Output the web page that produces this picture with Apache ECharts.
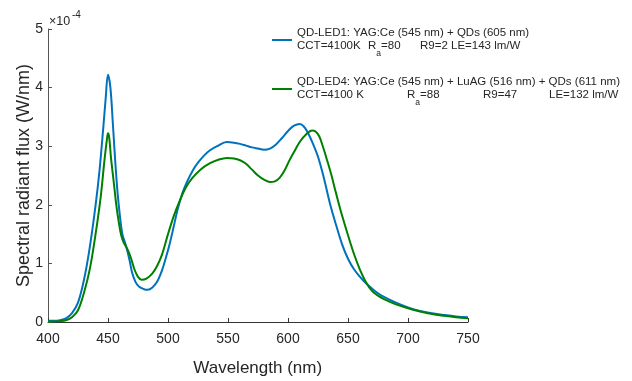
<!DOCTYPE html>
<html>
<head>
<meta charset="utf-8">
<script src="https://cdn.jsdelivr.net/npm/echarts@6/dist/echarts.min.js"></script>
<style>
  html, body { margin: 0; padding: 0; background: #ffffff; }
  #chart { width: 632px; height: 381px; }
</style>
</head>
<body>
<div id="chart"></div>
<script>
// Spectral power distributions of the two QD-LEDs (flux in units of 1e-4 W/nm)
const wavelengthLED1 = [400, 405, 410, 415, 420, 425, 430, 435, 440, 443, 446, 448, 450, 452, 454, 456, 458, 460, 462, 465, 468, 470, 473, 476, 480, 483, 487, 491, 495, 498, 501, 505, 508, 512, 516, 521, 525, 530, 535, 541, 549, 555, 560, 565, 570, 575, 580, 585, 590, 595, 600, 605, 610, 613, 616, 620, 625, 630, 635, 640, 645, 650, 655, 660, 665, 670, 675, 680, 690, 700, 710, 720, 730, 740, 750];
const fluxLED1 = [0.02, 0.02, 0.03, 0.06, 0.15, 0.33, 0.72, 1.3, 2.05, 2.6, 3.3, 3.8, 4.22, 4.0, 3.4, 2.75, 2.2, 1.8, 1.5, 1.3, 1.05, 0.85, 0.68, 0.6, 0.56, 0.55, 0.59, 0.69, 0.88, 1.08, 1.3, 1.65, 1.92, 2.2, 2.4, 2.6, 2.72, 2.84, 2.93, 3.0, 3.07, 3.06, 3.04, 3.01, 2.98, 2.96, 2.94, 2.96, 3.03, 3.14, 3.26, 3.35, 3.38, 3.34, 3.25, 3.08, 2.82, 2.45, 2.02, 1.66, 1.33, 1.08, 0.9, 0.77, 0.66, 0.57, 0.49, 0.43, 0.33, 0.25, 0.19, 0.15, 0.12, 0.095, 0.08];

const wavelengthLED4 = [400, 405, 410, 415, 420, 425, 430, 435, 440, 444, 447, 449, 450, 451, 452.5, 455, 457, 459, 461, 463, 466, 469, 472, 475, 478, 482, 487, 491, 495, 500, 505, 510, 515, 520, 527, 535, 542, 549, 555, 560, 565, 570, 575, 580, 585, 589, 593, 597, 601, 605, 610, 615, 620, 623, 626, 629, 632, 636, 640, 645, 650, 655, 660, 665, 670, 675, 680, 690, 700, 710, 720, 730, 740, 750];
const fluxLED4 = [0.01, 0.01, 0.015, 0.03, 0.08, 0.2, 0.5, 0.92, 1.55, 2.15, 2.75, 3.1, 3.22, 3.15, 2.8, 2.35, 1.98, 1.7, 1.48, 1.36, 1.25, 1.1, 0.9, 0.77, 0.72, 0.74, 0.83, 0.96, 1.15, 1.5, 1.82, 2.08, 2.3, 2.45, 2.6, 2.71, 2.77, 2.8, 2.79, 2.76, 2.7, 2.6, 2.5, 2.43, 2.39, 2.4, 2.46, 2.58, 2.75, 2.9, 3.08, 3.2, 3.27, 3.25, 3.17, 3.0, 2.8, 2.52, 2.2, 1.82, 1.48, 1.16, 0.89, 0.68, 0.53, 0.45, 0.39, 0.3, 0.235, 0.18, 0.135, 0.105, 0.08, 0.063];

const seriesNames = ['QD-LED1', 'QD-LED4'];
const legendTitles = ['QD-LED1: YAG:Ce (545 nm) + QDs (605 nm)', 'QD-LED4: YAG:Ce (545 nm) + LuAG (516 nm) + QDs (611 nm)'];
const legendCCT = ['CCT=4100K', 'CCT=4100 K'];
const legendRa = ['=80', '=88'];
const legendR9 = ['R9=2', 'R9=47'];
const legendLE = ['LE=143 lm/W', 'LE=132 lm/W'];

const FONT = 'Liberation Sans, Arial, Helvetica, sans-serif';
const TEXT_COLOR = '#262626';
const COLORS = ['#0072BD', '#008000'];

function pairs(xs, ys) { return xs.map((x, i) => [x, ys[i]]); }

// column widths of the second legend line, per entry
const colWidths = [[71, 39, 31], [110, 63, 66]];

function buildRich() {
  const base = { fontFamily: FONT, fontSize: 11.5, color: TEXT_COLOR, lineHeight: 14 };
  const rich = {
    t: Object.assign({}, base),
    r: Object.assign({}, base, { verticalAlign: 'top' }),
    s: Object.assign({}, base, { fontSize: 8.5, lineHeight: 9, padding: [9, 0, 0, 0], verticalAlign: 'top' }),
    e: Object.assign({}, base, { verticalAlign: 'top' })
  };
  colWidths.forEach((w, k) => {
    rich['c' + k] = Object.assign({}, base, { width: w[0], verticalAlign: 'top' });
    rich['v' + k] = Object.assign({}, base, { width: w[1], verticalAlign: 'top' });
    rich['n' + k] = Object.assign({}, base, { width: w[2], verticalAlign: 'top' });
  });
  return rich;
}

const chart = echarts.init(document.getElementById('chart'), null, { renderer: 'canvas' });

chart.setOption({
  animation: false,
  backgroundColor: '#ffffff',
  grid: { left: 48, right: 164, top: 29, bottom: 59, containLabel: false },
  legend: {
    orient: 'vertical',
    left: 272,
    top: 27,
    padding: 0,
    itemWidth: 20,
    itemHeight: 2,
    itemGap: 18,
    icon: 'rect',
    data: seriesNames,
    textStyle: { fontFamily: FONT, fontSize: 11.5, color: TEXT_COLOR, rich: buildRich() },
    formatter: function (name) {
      const k = seriesNames.indexOf(name);
      return '{t|' + legendTitles[k] + '}\n' +
        '{c' + k + '|' + legendCCT[k] + '}{r|R}{s|a}{v' + k + '|' + legendRa[k] + '}' +
        '{n' + k + '|' + legendR9[k] + '}{e|' + legendLE[k] + '}';
    }
  },
  xAxis: {
    type: 'value',
    min: 400,
    max: 750,
    interval: 50,
    axisLine: { show: true, lineStyle: { color: '#333333', width: 1 } },
    axisTick: { show: true, inside: true, length: 4, lineStyle: { color: '#333333' } },
    axisLabel: { fontFamily: FONT, fontSize: 14, color: TEXT_COLOR, margin: 10 },
    splitLine: { show: false }
  },
  yAxis: {
    type: 'value',
    min: 0,
    max: 5,
    interval: 1,
    axisLine: { show: true, lineStyle: { color: '#555555', width: 1 } },
    axisTick: { show: true, inside: true, length: 4, lineStyle: { color: '#555555' } },
    axisLabel: { fontFamily: FONT, fontSize: 14, color: TEXT_COLOR, margin: 5 },
    splitLine: { show: false }
  },
  graphic: [
    {
      type: 'text',
      x: 24, y: 175.5,
      rotation: Math.PI / 2,
      style: { text: 'Spectral radiant flux (W/nm)', font: '18px ' + FONT, fill: TEXT_COLOR, align: 'center', verticalAlign: 'middle' }
    },
    {
      type: 'text',
      x: 257.7, y: 368,
      style: { text: 'Wavelength (nm)', font: '17px ' + FONT, fill: TEXT_COLOR, align: 'center', verticalAlign: 'middle' }
    },
    {
      type: 'text',
      x: 49, y: 21.5,
      style: { text: '×10', font: '12.5px ' + FONT, fill: TEXT_COLOR, align: 'left', verticalAlign: 'middle' }
    },
    {
      type: 'text',
      x: 72, y: 15,
      style: { text: '-4', font: '10px ' + FONT, fill: TEXT_COLOR, align: 'left', verticalAlign: 'middle' }
    }
  ],
  series: [
    {
      name: seriesNames[0],
      type: 'line',
      data: pairs(wavelengthLED1, fluxLED1),
      showSymbol: false,
      smooth: 0.35,
      color: COLORS[0],
      lineStyle: { width: 2, color: COLORS[0] },
      itemStyle: { color: COLORS[0] }
    },
    {
      name: seriesNames[1],
      type: 'line',
      data: pairs(wavelengthLED4, fluxLED4),
      showSymbol: false,
      smooth: 0.35,
      color: COLORS[1],
      lineStyle: { width: 2, color: COLORS[1] },
      itemStyle: { color: COLORS[1] }
    }
  ]
});
</script>
</body>
</html>
